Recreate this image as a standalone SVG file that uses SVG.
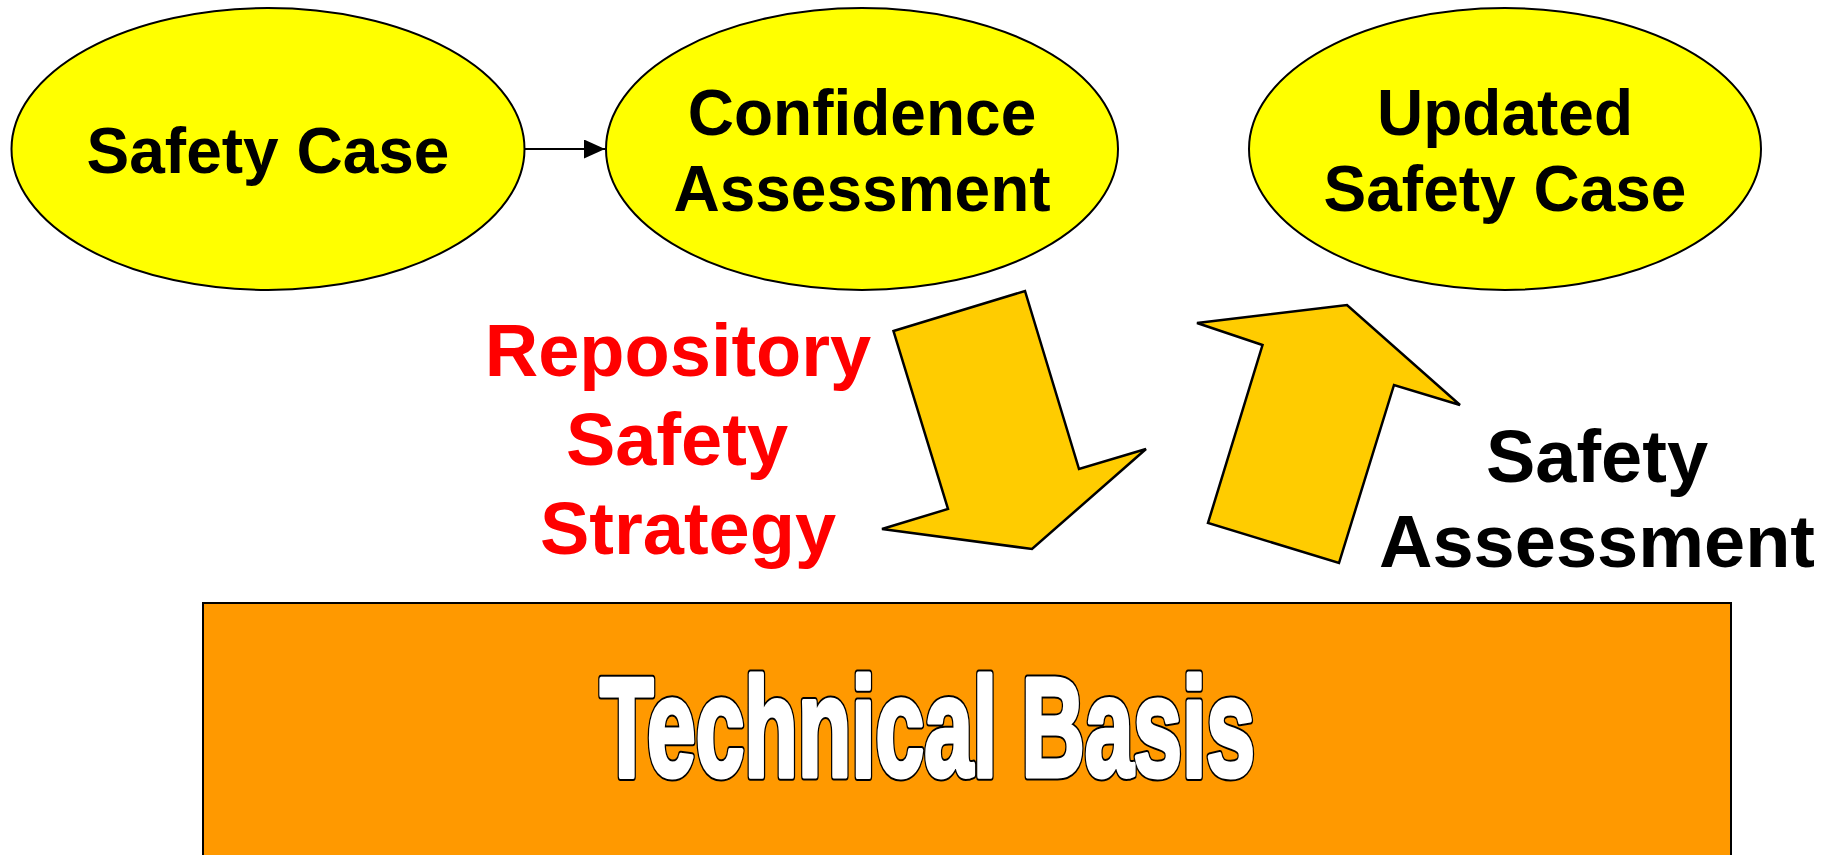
<svg xmlns="http://www.w3.org/2000/svg" width="1833" height="855" viewBox="0 0 1833 855">
  <style>
    .oval { fill: #FFFF00; stroke: #000; stroke-width: 2; }
    .label { font-family: "Liberation Sans", Arial, sans-serif; font-weight: bold; font-size: 64px; text-anchor: middle; fill: #000; }
    .big { font-family: "Liberation Sans", Arial, sans-serif; font-weight: bold; font-size: 74px; text-anchor: middle; }
    .block { fill: #FFCC00; stroke: #000; stroke-width: 2.5; stroke-linejoin: miter; }
    .base { fill: #FF9900; stroke: #000; stroke-width: 2; }
    .title { font-family: "Liberation Sans", Arial, sans-serif; font-weight: bold; font-size: 141px; fill: #fff; stroke-linejoin: round; }
    .title-outline { stroke: #000; stroke-width: 9; paint-order: stroke; }
    .title-body { stroke: #fff; stroke-width: 5; }
  </style>
  <defs>
    <marker id="head" viewBox="0 0 21 19" refX="21" refY="9.5" markerWidth="21" markerHeight="19" markerUnits="userSpaceOnUse" orient="auto">
      <path d="M0,0 L21,9.5 L0,19 Z" fill="#000"/>
    </marker>
  </defs>

  <rect width="1833" height="855" fill="#fff"/>

  <!-- base block with heavy outlined caption -->
  <g id="technical-basis">
    <rect class="base" x="203" y="603" width="1528" height="270"/>
    <text class="title title-outline" x="600" y="776" textLength="655" lengthAdjust="spacingAndGlyphs">Technical Basis</text>
    <text class="title title-body" x="600" y="776" textLength="655" lengthAdjust="spacingAndGlyphs">Technical Basis</text>
  </g>

  <!-- connectors -->
  <g id="connectors">
    <line x1="525" y1="149" x2="605" y2="149" stroke="#000" stroke-width="2" marker-end="url(#head)"/>
    <polygon id="strategy-arrow" class="block" points="893.5,331 1025,291 1079,469 1146,449 1032,549 882,529 948,509"/>
    <polygon id="assessment-arrow" class="block" points="1262.5,345 1197,323 1347,305 1460,405 1394,385 1339,563 1208,523"/>
  </g>

  <g id="safety-case">
    <ellipse class="oval" cx="268" cy="149" rx="256.5" ry="141"/>
    <text class="label" x="268" y="173">Safety Case</text>
  </g>

  <g id="confidence-assessment">
    <ellipse class="oval" cx="862" cy="149" rx="256" ry="141"/>
    <text class="label" x="862" y="135">Confidence</text>
    <text class="label" x="862" y="211">Assessment</text>
  </g>

  <g id="updated-safety-case">
    <ellipse class="oval" cx="1505" cy="149" rx="256" ry="141"/>
    <text class="label" x="1505" y="135">Updated</text>
    <text class="label" x="1505" y="211">Safety Case</text>
  </g>

  <g id="repository-safety-strategy">
    <text class="big" fill="#FF0000" x="678" y="376">Repository</text>
    <text class="big" fill="#FF0000" x="677" y="465">Safety</text>
    <text class="big" fill="#FF0000" x="688" y="554">Strategy</text>
  </g>

  <g id="safety-assessment">
    <text class="big" fill="#000" x="1597" y="482">Safety</text>
    <text class="big" fill="#000" x="1597" y="567">Assessment</text>
  </g>
</svg>
